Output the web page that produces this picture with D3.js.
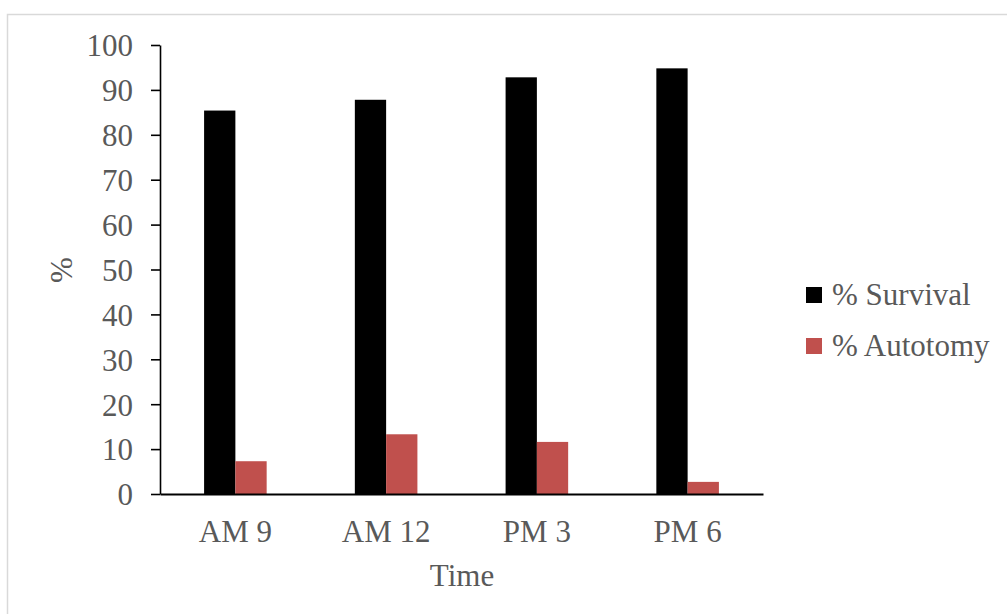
<!DOCTYPE html>
<html>
<head>
<meta charset="utf-8">
<script src="https://cdn.jsdelivr.net/npm/d3@7"></script>
<style>
  body { margin: 0; background: #fff; }
  text { font-family: "Liberation Serif", "Times New Roman", serif; fill: #595959; }
</style>
</head>
<body>
<div id="chart-area"></div>
<script>
// Data
var times = ["AM 9", "AM 12", "PM 3", "PM 6"];
var seriesNames = ["% Survival", "% Autotomy"];
var survival = [85.4, 87.8, 92.8, 94.8];
var autotomy = [7.3, 13.3, 11.6, 2.7];
var yTicks = [0, 10, 20, 30, 40, 50, 60, 70, 80, 90, 100];
var colors = ["#000000", "#C0504D"];

var margin = { left: 160, top: 45 };
var width = 603, height = 449;

var svg = d3.select("#chart-area")
    .append("svg")
    .attr("width", 1007)
    .attr("height", 614);

// chart frame
svg.append("rect")
    .attr("x", 7.5).attr("y", 14.5)
    .attr("width", 1010).attr("height", 620)
    .attr("fill", "none")
    .attr("stroke", "#d9d9d9")
    .attr("stroke-width", 1.5);

var g = svg.append("g")
    .attr("transform", "translate(" + margin.left + "," + margin.top + ")");

// Scales
var x0 = d3.scaleBand()
    .domain(times)
    .range([0, width])
    .paddingInner(0.585)
    .paddingOuter(0.2925);
var x1 = d3.scaleBand()
    .domain(seriesNames)
    .range([0, x0.bandwidth()]);
var y = d3.scaleLinear()
    .domain([0, 100])
    .range([height, 0]);

// Bars
var rows = times.map(function(t, i) {
    return { time: t, values: [survival[i], autotomy[i]] };
});
var groups = g.selectAll(".grp").data(rows)
    .enter().append("g")
    .attr("class", "grp")
    .attr("transform", function(d) { return "translate(" + x0(d.time) + ",0)"; });
groups.selectAll("rect")
    .data(function(d) {
        return d.values.map(function(v, j) { return { name: seriesNames[j], value: v, j: j }; });
    })
    .enter().append("rect")
    .attr("x", function(d) { return x1(d.name); })
    .attr("width", x1.bandwidth())
    .attr("y", function(d) { return y(d.value); })
    .attr("height", function(d) { return height - y(d.value); })
    .attr("fill", function(d) { return colors[d.j]; });

// Y Axis
var yAxisCall = d3.axisLeft(y)
    .tickValues(yTicks)
    .tickSize(9)
    .tickSizeOuter(0)
    .tickPadding(18);
var yAxis = g.append("g").attr("class", "y axis").call(yAxisCall);
yAxis.selectAll("path, line").attr("stroke", "#000").attr("stroke-width", 1.6);
yAxis.selectAll("text")
    .attr("font-size", "31px")
    .attr("fill", "#595959")
    .attr("font-family", "Liberation Serif, serif")
    .attr("dy", "0.35em");

// X Axis
var xAxisCall = d3.axisBottom(x0).tickSize(0).tickPadding(26);
var xAxis = g.append("g")
    .attr("class", "x axis")
    .attr("transform", "translate(0," + height + ")")
    .call(xAxisCall);
xAxis.select(".domain").attr("stroke", "#000").attr("stroke-width", 2);
xAxis.selectAll("text")
    .attr("font-size", "31px")
    .attr("fill", "#595959")
    .attr("font-family", "Liberation Serif, serif")
    .attr("dy", "0.71em");

// Axis titles
svg.append("text")
    .attr("x", 462)
    .attr("y", 586)
    .attr("text-anchor", "middle")
    .attr("font-size", "31px")
    .text("Time");
svg.append("text")
    .attr("transform", "translate(72,270) rotate(-90)")
    .attr("text-anchor", "middle")
    .attr("font-size", "31px")
    .text("%");

// Legend
var legend = svg.selectAll(".legend").data(seriesNames)
    .enter().append("g")
    .attr("class", "legend")
    .attr("transform", function(d, i) { return "translate(806," + (287 + i * 51) + ")"; });
legend.append("rect")
    .attr("width", 16).attr("height", 16)
    .attr("fill", function(d, i) { return colors[i]; });
legend.append("text")
    .attr("x", 26)
    .attr("y", 18)
    .attr("font-size", "31px")
    .text(function(d) { return d; });
</script>
</body>
</html>
